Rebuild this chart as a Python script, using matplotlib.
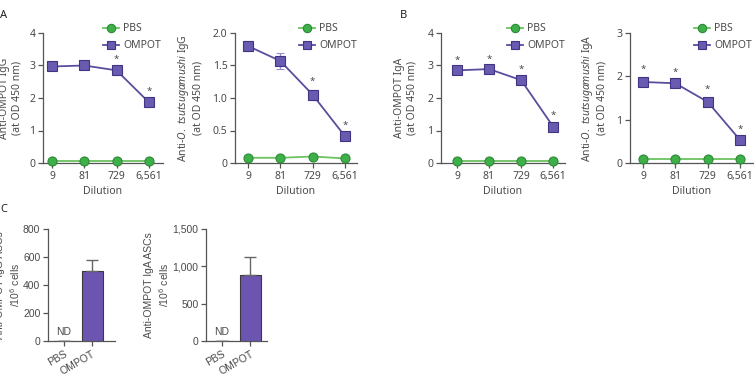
import matplotlib
matplotlib.use("Agg")
import matplotlib.pyplot as plt
from matplotlib.lines import Line2D
import numpy as np

plt.rcParams['font.family'] = ['Noto Sans', 'DejaVu Sans']
plt.rcParams['mathtext.fontset'] = 'custom'
plt.rcParams['mathtext.it'] = 'Noto Sans:italic'
plt.rcParams['mathtext.rm'] = 'Noto Sans'

dilutions = ["9", "81", "729", "6,561"]

# Panel A1: Anti-OMPOT IgG
a1_ompot = [2.97, 3.00, 2.85, 1.87]
a1_ompot_err = [0.04, 0.04, 0.06, 0.06]
a1_pbs = [0.07, 0.07, 0.07, 0.07]
a1_stars = [False, False, True, True]

# Panel A2: Anti-O. tsutsugamushi IgG
a2_ompot = [1.80, 1.57, 1.05, 0.41]
a2_ompot_err = [0.07, 0.12, 0.08, 0.04]
a2_pbs = [0.08, 0.08, 0.10, 0.07]
a2_stars = [False, False, True, True]

# Panel B1: Anti-OMPOT IgA
b1_ompot = [2.85, 2.89, 2.55, 1.12]
b1_ompot_err = [0.04, 0.04, 0.05, 0.08]
b1_pbs = [0.05, 0.05, 0.05, 0.05]
b1_stars = [True, True, True, True]

# Panel B2: Anti-O. tsutsugamushi IgA
b2_ompot = [1.87, 1.84, 1.41, 0.53]
b2_ompot_err = [0.08, 0.05, 0.10, 0.05]
b2_pbs = [0.09, 0.09, 0.09, 0.09]
b2_stars = [True, True, True, True]

# Panel C: ASCs
c_groups = ["PBS", "OMPOT"]
c1_values = [0, 500]
c1_err = [0, 80]
c2_values = [0, 890]
c2_err = [0, 230]

W, H = 754, 374
fig = plt.figure(figsize=(W / 100, H / 100), dpi=100)

def px_axes(x0, x1, y0, y1):
    return fig.add_axes([x0 / W, 1 - y1 / H, (x1 - x0) / W, (y1 - y0) / H])

TXT = '#4a4a4a'
SP = '#555555'
PUR_L = '#5a4e9e'
PUR_F = '#6b5bb0'
PUR_E = '#3f3585'
GRN_L = '#6cc35f'
GRN_F = '#3fb049'
GRN_E = '#2a8a35'

def style(ax):
    for s in ['top', 'right']:
        ax.spines[s].set_visible(False)
    for s in ['left', 'bottom']:
        ax.spines[s].set_color(SP)
        ax.spines[s].set_linewidth(0.9)
    ax.tick_params(colors=SP, labelcolor=TXT, labelsize=7.5, length=3.5, width=0.9, pad=2)

def line_panel(x0, x1, xl, ompot, err, pbs, stars, ymax, yticks, yticklabels, ylabel, ylabel_x,
               leg_x):
    ax = px_axes(x0, x1, 33, 163)
    style(ax)
    x = np.arange(len(dilutions))
    ax.plot(x, pbs, '-o', color=GRN_L, lw=1.3, ms=6.5, mfc=GRN_F, mec=GRN_E, mew=0.8,
            zorder=3, clip_on=False)
    ax.errorbar(x, ompot, yerr=err, fmt='-s', color=PUR_L, lw=1.3, ms=7, mfc=PUR_F,
                mec=PUR_E, mew=0.8, ecolor='#9a90c8', elinewidth=1.0, capsize=3,
                zorder=4, clip_on=False)
    for xi, v, e, s in zip(x, ompot, err, stars):
        if s:
            ax.annotate('*', (xi, v + e), xytext=(0, 3), textcoords='offset points',
                        ha='center', va='bottom', fontsize=7, color=TXT)
    ax.set_xlim(*xl)
    ax.set_ylim(0, ymax)
    ax.set_xticks(x)
    ax.set_xticklabels(dilutions)
    ax.set_yticks(yticks)
    ax.set_yticklabels(yticklabels)
    ax.set_xlabel('Dilution', fontsize=7.5, color=TXT, labelpad=3)
    ax.set_ylabel(ylabel, fontsize=7.5, color=TXT, linespacing=1.25)
    ax.yaxis.set_label_coords((ylabel_x - x0) / (x1 - x0), 0.5)
    handles = [
        Line2D([], [], color=GRN_L, lw=1.3, marker='o', ms=6, mfc=GRN_F, mec=GRN_E, mew=0.8),
        Line2D([], [], color=PUR_L, lw=1.3, marker='s', ms=6, mfc=PUR_F, mec=PUR_E, mew=0.8),
    ]
    leg = ax.legend(handles, ['PBS', 'OMPOT'], loc='upper left',
                    bbox_to_anchor=((leg_x - x0) / (x1 - x0), 1.075), frameon=False,
                    fontsize=7.5, handlelength=1.5, handletextpad=0.45,
                    labelspacing=0.6, borderaxespad=0, borderpad=0)
    for t in leg.get_texts():
        t.set_color(TXT)
    return ax

line_panel(43, 163, (-0.28, 3.44), a1_ompot, a1_ompot_err, a1_pbs, a1_stars, 4,
           [0, 1, 2, 3, 4], ['0', '1', '2', '3', '4'],
           'Anti-OMPOT IgG\n(at OD 450 nm)', 23, 103)
line_panel(235, 357, (-0.40, 3.37), a2_ompot, a2_ompot_err, a2_pbs, a2_stars, 2.0,
           [0, 0.5, 1.0, 1.5, 2.0], ['0', '0.5', '1.0', '1.5', '2.0'],
           'Anti-$\\it{O.\\ tsutsugamushi}$ IgG\n(at OD 450 nm)', 204, 299)
line_panel(441, 565, (-0.5, 3.37), b1_ompot, b1_ompot_err, b1_pbs, b1_stars, 4,
           [0, 1, 2, 3, 4], ['0', '1', '2', '3', '4'],
           'Anti-OMPOT IgA\n(at OD 450 nm)', 418, 507)
line_panel(630, 754, (-0.40, 3.43), b2_ompot, b2_ompot_err, b2_pbs, b2_stars, 3,
           [0, 1, 2, 3], ['0', '1', '2', '3'],
           'Anti-$\\it{O.\\ tsutsugamushi}$ IgA\n(at OD 450 nm)', 608, 694)

def bar_panel(x0, x1, xl, vals, err, ymax, yticks, yticklabels, ylabel, ylabel_x):
    ax = px_axes(x0, x1, 229, 341)
    style(ax)
    x = np.arange(len(c_groups))
    ax.bar(x, vals, width=0.75, color='#6c55b0', edgecolor='#3a3a3a', linewidth=0.8,
           yerr=[[0] * len(err), err], ecolor='#666666',
           error_kw=dict(elinewidth=1.0, capsize=4, capthick=1.0), zorder=3)
    ax.text(0, ymax * 0.04, 'ND', ha='center', va='bottom', fontsize=7.5, color=TXT,
            family='Liberation Sans')
    ax.set_xlim(*xl)
    ax.set_ylim(0, ymax)
    ax.set_xticks(x)
    ax.set_xticklabels(c_groups, rotation=30, ha='right', rotation_mode='anchor',
                       family='Liberation Sans')
    ax.set_yticks(yticks)
    ax.set_yticklabels(yticklabels, family='Liberation Sans')
    ax.set_ylabel(ylabel, fontsize=7.5, color=TXT, family='Liberation Sans', linespacing=1.25)
    ax.yaxis.set_label_coords((ylabel_x - x0) / (x1 - x0), 0.5)
    return ax

bar_panel(48, 115, (-0.57, 1.82), c1_values, c1_err, 800,
          [0, 200, 400, 600, 800], ['0', '200', '400', '600', '800'],
          'Anti-OMPOT IgG ASCs\n/10$^{6}$ cells', 22)
bar_panel(206, 267, (-0.57, 1.6), c2_values, c2_err, 1500,
          [0, 500, 1000, 1500], ['0', '500', '1,000', '1,500'],
          'Anti-OMPOT IgA ASCs\n/10$^{6}$ cells', 171)

for lab, xx, yy in [('A', 0, 15), ('B', 400, 15), ('C', 0, 210)]:
    fig.text(xx / W, 1 - yy / H, lab, fontsize=8, fontweight='bold', color='#222222',
             ha='left', va='center')

fig.savefig('out.png', dpi=100)
